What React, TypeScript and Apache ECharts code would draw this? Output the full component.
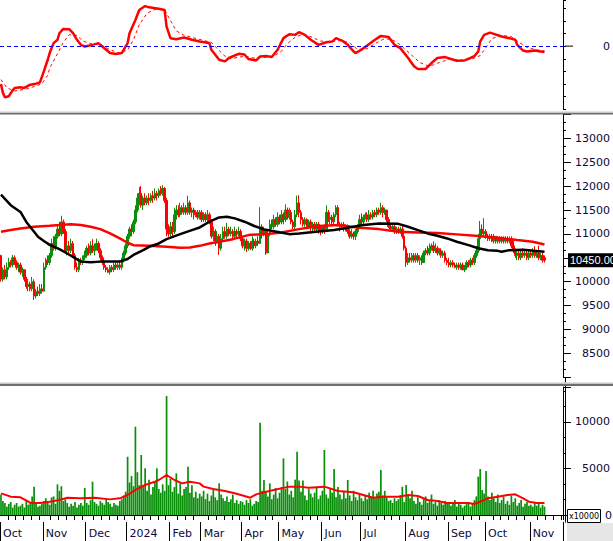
import React, { useEffect, useRef } from "react";
import * as echarts from "echarts";

// ---------- calendar (trading days) ----------
const firstDay = "2023-10-02";
const lastDay = "2024-11-25";
const holidays = [
  "2024-01-01", "2024-02-08", "2024-02-09", "2024-02-12", "2024-02-13", "2024-02-14",
  "2024-04-18", "2024-04-29", "2024-04-30", "2024-05-01", "2024-09-02", "2024-09-03",
];
const monthNames = ["Jan", "Feb", "Mar", "Apr", "May", "Jun", "Jul", "Aug", "Sep", "Oct", "Nov", "Dec"];

// ---------- candles [open, close, low, high] ----------
const oct23 = [
  [10550, 10050, 10000, 10560], [10050, 10250, 10000, 10300], [10250, 10100, 10050, 10350], [10100, 10300, 10050, 10400],
  [10300, 10400, 10250, 10500], [10400, 10350, 10300, 10450], [10350, 10500, 10300, 10560], [10500, 10400, 10350, 10550],
  [10400, 10300, 10250, 10450], [10300, 10350, 10200, 10400], [10350, 10200, 10150, 10400], [10200, 10250, 10100, 10300],
  [10250, 10050, 10000, 10250], [10050, 9900, 9850, 10100], [9900, 9950, 9800, 10050], [9950, 9850, 9800, 10000],
  [9850, 10000, 9800, 10100], [10000, 9700, 9620, 10050], [9700, 9800, 9650, 9850], [9800, 9750, 9700, 9900],
  [9750, 9850, 9700, 9950], [9850, 9800, 9750, 9950],
];
const nov23 = [
  [9800, 10300, 9800, 10400], [10300, 10450, 10250, 10500], [10450, 10400, 10350, 10550], [10400, 10550, 10350, 10600],
  [10550, 10800, 10500, 10900], [10800, 10700, 10650, 10950], [10700, 10950, 10650, 11000], [10950, 11100, 10900, 11200],
  [11100, 11000, 10950, 11250], [11000, 11250, 10950, 11380], [11250, 11050, 11000, 11300], [11050, 10650, 10600, 11100],
  [10650, 10750, 10550, 10800], [10750, 10650, 10600, 10850], [10650, 10800, 10600, 10900], [10800, 10550, 10500, 10850],
  [10550, 10300, 10250, 10600], [10300, 10250, 10200, 10400], [10250, 10450, 10200, 10500], [10450, 10400, 10350, 10500],
  [10400, 10500, 10350, 10550], [10500, 10550, 10450, 10650],
];
const dec23 = [
  [10550, 10700, 10500, 10750], [10700, 10600, 10550, 10800], [10600, 10750, 10550, 10850], [10750, 10650, 10600, 10890],
  [10650, 10700, 10550, 10800], [10700, 10800, 10650, 10900], [10800, 10650, 10600, 10850], [10650, 10500, 10450, 10700],
  [10500, 10400, 10350, 10550], [10400, 10300, 10250, 10450], [10300, 10250, 10200, 10350], [10250, 10200, 10180, 10300],
  [10200, 10300, 10150, 10350], [10300, 10250, 10200, 10350], [10250, 10350, 10200, 10400], [10350, 10300, 10250, 10400],
  [10300, 10350, 10250, 10400], [10350, 10300, 10250, 10450], [10300, 10450, 10250, 10500], [10450, 10600, 10400, 10650],
  [10600, 10750, 10550, 10800],
];
const jan24 = [
  [10750, 10950, 10700, 11000], [10950, 11100, 10900, 11150], [11100, 11050, 10950, 11200], [11050, 11250, 11000, 11300],
  [11250, 11500, 11200, 11600], [11500, 11750, 11450, 11850], [11750, 11850, 11600, 11980], [11850, 11600, 11550, 12000],
  [11600, 11750, 11500, 11800], [11750, 11650, 11600, 11850], [11650, 11750, 11600, 11800], [11750, 11700, 11600, 11850],
  [11700, 11800, 11650, 11850], [11800, 11750, 11650, 11900], [11750, 11850, 11700, 11950], [11850, 11800, 11700, 11900],
  [11800, 11900, 11750, 11950], [11900, 11850, 11800, 12000], [11850, 11950, 11800, 12020], [11950, 11700, 11650, 11980],
  [11700, 11100, 10950, 11750], [11100, 11000, 10940, 11200],
];
const feb24 = [
  [11000, 11150, 10950, 11250], [11150, 11050, 10950, 11250], [11050, 11400, 11000, 11550], [11400, 11500, 11300, 11600],
  [11500, 11400, 11350, 11600], [11400, 11550, 11350, 11650], [11550, 11450, 11400, 11600], [11450, 11550, 11400, 11650],
  [11550, 11450, 11400, 11600], [11450, 11650, 11400, 11800], [11650, 11450, 11400, 11700], [11450, 11500, 11350, 11550],
  [11500, 11400, 11300, 11550], [11400, 11450, 11350, 11500], [11450, 11350, 11300, 11500], [11350, 11450, 11300, 11500],
];
const mar24 = [
  [11450, 11300, 11250, 11500], [11300, 11400, 11250, 11450], [11400, 11300, 11250, 11450], [11300, 11400, 11250, 11500],
  [11400, 11250, 11200, 11450], [11250, 10950, 10900, 11300], [10950, 11050, 10850, 11150], [11050, 10850, 10750, 11100],
  [10850, 10950, 10800, 11050], [10950, 10700, 10560, 11000], [10700, 10900, 10650, 11000], [10900, 11050, 10850, 11150],
  [11050, 10950, 10900, 11150], [10950, 11100, 10900, 11230], [11100, 11000, 10950, 11150], [11000, 11050, 10950, 11150],
  [11050, 10950, 10900, 11100], [10950, 11050, 10900, 11150], [11050, 11000, 10940, 11100], [11000, 11050, 10950, 11150],
  [11050, 10900, 10850, 11100],
];
const apr24 = [
  [10900, 10750, 10700, 10950], [10750, 10850, 10650, 10900], [10850, 10700, 10620, 10900], [10700, 10800, 10650, 10850],
  [10800, 10700, 10660, 10850], [10700, 10850, 10650, 10950], [10850, 10750, 10700, 10900], [10750, 10850, 10700, 10900],
  [10850, 10800, 10750, 10950], [10800, 11150, 10800, 11560], [11150, 11000, 10900, 11200], [11000, 11100, 10950, 11150],
  [11100, 10600, 10560, 11100], [10600, 11000, 10600, 11100], [11000, 11200, 10950, 11300], [11200, 11150, 11100, 11300],
  [11150, 11300, 11100, 11400], [11300, 11200, 11150, 11350], [11200, 11350, 11150, 11450],
];
const may24 = [
  [11350, 11250, 11200, 11400], [11250, 11400, 11200, 11500], [11400, 11300, 11200, 11450], [11300, 11500, 11250, 11620],
  [11500, 11350, 11300, 11550], [11350, 11450, 11300, 11550], [11450, 11250, 11200, 11500], [11250, 11150, 11100, 11300],
  [11150, 11400, 11100, 11500], [11400, 11650, 11350, 11800], [11650, 11450, 11350, 11810], [11450, 11300, 11200, 11500],
  [11300, 11200, 11150, 11350], [11200, 11300, 11150, 11350], [11300, 11150, 11100, 11330], [11150, 11250, 11100, 11300],
  [11250, 11150, 11050, 11300], [11150, 11200, 11050, 11250], [11200, 11100, 11040, 11250], [11100, 11200, 11050, 11250],
  [11200, 11100, 11000, 11250], [11100, 11050, 10970, 11150],
];
const jun24 = [
  [11050, 11150, 11000, 11180], [11150, 11100, 11000, 11200], [11100, 11450, 11100, 11600], [11450, 11300, 11250, 11500],
  [11300, 11350, 11200, 11450], [11350, 11250, 11150, 11400], [11250, 11400, 11200, 11450], [11400, 11550, 11350, 11600],
  [11550, 11200, 11150, 11600], [11200, 11150, 11050, 11250], [11150, 11200, 11100, 11240], [11200, 11100, 11050, 11250],
  [11100, 11150, 11050, 11200], [11150, 11050, 11000, 11200], [11050, 10950, 10900, 11100], [10950, 11000, 10900, 11100],
  [11000, 10950, 10880, 11050], [10950, 11050, 10870, 11100], [11050, 11150, 11000, 11200], [11150, 11300, 11100, 11400],
];
const jul24 = [
  [11300, 11250, 11200, 11430], [11250, 11350, 11200, 11400], [11350, 11400, 11300, 11450], [11400, 11300, 11250, 11450],
  [11300, 11400, 11250, 11500], [11400, 11350, 11300, 11450], [11350, 11450, 11300, 11500], [11450, 11400, 11350, 11500],
  [11400, 11500, 11350, 11550], [11500, 11450, 11400, 11550], [11450, 11550, 11400, 11650], [11550, 11450, 11350, 11600],
  [11450, 11500, 11400, 11550], [11500, 11300, 11250, 11500], [11300, 11150, 11120, 11350], [11150, 11100, 11050, 11200],
  [11100, 11150, 11050, 11200], [11150, 11050, 11000, 11200], [11050, 11100, 11000, 11150], [11100, 11050, 11000, 11150],
  [11050, 11100, 11000, 11150], [11100, 10950, 10900, 11200], [10950, 10700, 10650, 10980],
];
const aug24 = [
  [10700, 10400, 10310, 10750], [10400, 10500, 10350, 10600], [10500, 10450, 10400, 10600], [10450, 10550, 10400, 10600],
  [10550, 10450, 10400, 10600], [10450, 10550, 10400, 10600], [10550, 10450, 10400, 10600], [10450, 10500, 10350, 10550],
  [10500, 10400, 10350, 10550], [10400, 10600, 10400, 10650], [10600, 10650, 10550, 10700], [10650, 10600, 10550, 10750],
  [10600, 10700, 10550, 10800], [10700, 10750, 10650, 10800], [10750, 10650, 10600, 10840], [10650, 10700, 10600, 10800],
  [10700, 10600, 10550, 10750], [10600, 10650, 10550, 10700], [10650, 10550, 10500, 10700], [10550, 10600, 10500, 10650],
  [10600, 10450, 10400, 10650], [10450, 10400, 10350, 10500],
];
const sep24 = [
  [10400, 10350, 10300, 10500], [10350, 10400, 10300, 10450], [10400, 10350, 10300, 10450], [10350, 10300, 10280, 10400],
  [10300, 10350, 10250, 10400], [10350, 10300, 10250, 10400], [10300, 10350, 10250, 10400], [10350, 10250, 10240, 10400],
  [10250, 10300, 10200, 10350], [10300, 10400, 10250, 10450], [10400, 10350, 10300, 10450], [10350, 10450, 10300, 10500],
  [10450, 10400, 10350, 10500], [10400, 10550, 10350, 10600], [10550, 10650, 10500, 10750], [10650, 10900, 10600, 11000],
  [10900, 11100, 10850, 11270], [11100, 11000, 10950, 11200], [11000, 11050, 10950, 11330],
];
const oct24 = [
  [11050, 10950, 10900, 11100], [10950, 10900, 10850, 11000], [10900, 10950, 10850, 11000], [10950, 10850, 10830, 11000],
  [10850, 10950, 10800, 11000], [10950, 10850, 10800, 10950], [10850, 10900, 10800, 10950], [10900, 10850, 10800, 10950],
  [10850, 10900, 10800, 10950], [10900, 10850, 10800, 10950], [10850, 10900, 10800, 10950], [10900, 10850, 10800, 10950],
  [10850, 10900, 10800, 10950], [10900, 10750, 10700, 10950], [10750, 10650, 10600, 10850], [10650, 10550, 10500, 10700],
  [10550, 10600, 10450, 10650], [10600, 10500, 10450, 10650], [10500, 10600, 10450, 10650], [10600, 10550, 10500, 10700],
  [10550, 10600, 10500, 10650], [10600, 10500, 10450, 10650], [10500, 10600, 10450, 10650],
];
const nov24 = [
  [10600, 10550, 10500, 10650], [10550, 10650, 10500, 10700], [10650, 10550, 10500, 10740], [10550, 10600, 10500, 10650],
  [10600, 10500, 10450, 10750], [10500, 10550, 10450, 10600], [10550, 10450, 10400, 10600], [10500, 10450, 10400, 10550],
];

// ---------- volumes (x10000) ----------
const volOct23 = [2200, 1500, 1300, 900, 1200, 1400, 800, 1100, 1300, 900, 1000, 1200, 800, 1500, 1100, 1300, 2000, 3040, 1400, 900, 1000, 1200];
const volNov23 = [1500, 1800, 1300, 1100, 1900, 2000, 1200, 3300, 2600, 3100, 1500, 1700, 1300, 900, 1200, 1000, 1400, 800, 1100, 1300, 1000, 2900];
const volDec23 = [1300, 1100, 1600, 3580, 1400, 1200, 1000, 1500, 1300, 1100, 1700, 1400, 1200, 900, 1300, 1100, 1000, 1500, 1700, 2100, 2500];
const volJan24 = [6270, 3500, 4200, 3100, 9490, 4600, 3200, 6450, 3000, 5020, 2600, 3800, 2200, 3000, 3600, 5020, 2800, 2400, 3300, 2600, 12800, 3200];
const volFeb24 = [3940, 2500, 3000, 4480, 2300, 3400, 2100, 2800, 3000, 5190, 2400, 3200, 1900, 2500, 1800, 2300];
const volMar24 = [2000, 2600, 1700, 2300, 1500, 2100, 2800, 1900, 1600, 3400, 2200, 1800, 1500, 2000, 1400, 1700, 2200, 1300, 1600, 1200, 1500];
const volApr24 = [1400, 1100, 1600, 1300, 1700, 1000, 1200, 1500, 1400, 9920, 2600, 3760, 2500, 2000, 3400, 1700, 2200, 2900, 1800];
const volMay24 = [2400, 3000, 6090, 2800, 3600, 2200, 2600, 1900, 3800, 6800, 3700, 2500, 3700, 2100, 1600, 2800, 2300, 1900, 2400, 3000, 1700, 2100];
const volJun24 = [2600, 6990, 2200, 1800, 2800, 2400, 4940, 1900, 3000, 2200, 1700, 2500, 1800, 3760, 2100, 1500, 2600, 1900, 1600, 2200];
const volJul24 = [1800, 1500, 2100, 1700, 2400, 1900, 2600, 1800, 2300, 2500, 4840, 2100, 2600, 1900, 1500, 1600, 1300, 1800, 1500, 1700, 2100, 3040, 1400];
const volAug24 = [3225, 2200, 1800, 2600, 1500, 1200, 1900, 1400, 1100, 1700, 2000, 1300, 1500, 2200, 1200, 1400, 1000, 1600, 1300, 1100, 1500, 1200];
const volSep24 = [1400, 1000, 1200, 1600, 900, 1300, 1100, 800, 1000, 1400, 1200, 900, 1300, 1600, 2000, 4120, 4940, 2690, 2300];
const volOct24 = [4730, 2000, 1600, 2400, 1800, 1400, 2200, 1300, 1600, 2000, 1200, 1500, 1100, 2100, 1400, 1800, 1000, 1300, 1600, 900, 1200, 1400, 1000];
const volNov24 = [1100, 900, 1300, 1000, 1200, 800, 1100, 900];

// ---------- indicator lines: [bar index, value] ----------
const maBlack = [
  [0, 11820], [5, 11600], [10, 11460], [13, 11250], [17, 11045], [19, 10940], [22, 10850], [25, 10770], [30, 10680],
  [34, 10590], [37, 10520], [41, 10420], [46, 10405], [51, 10420], [61, 10420], [65, 10475], [68, 10560], [73, 10660],
  [76, 10730], [81, 10800], [85, 10890], [92, 10995], [98, 11080], [102, 11135], [107, 11255], [112, 11345], [116, 11360],
  [120, 11325], [125, 11255], [130, 11165], [135, 11095], [143, 11033], [148, 10995], [153, 11010], [163, 11050],
  [171, 11080], [178, 11130], [186, 11185], [194, 11220], [204, 11210], [209, 11150], [214, 11080], [219, 11010],
  [224, 10960], [229, 10905], [234, 10835], [240, 10765], [245, 10700], [250, 10660], [255, 10645], [257, 10625],
  [261, 10660], [268, 10670], [279, 10625],
];
const maRed = [
  [0, 11045], [5, 11080], [10, 11115], [17, 11150], [25, 11170], [30, 11185], [36, 11200], [41, 11185], [46, 11150],
  [51, 11100], [56, 11010], [61, 10905], [65, 10815], [68, 10765], [76, 10750], [85, 10730], [92, 10710], [97, 10715],
  [102, 10750], [107, 10800], [112, 10835], [119, 10890], [127, 10975], [138, 11005], [144, 11030], [153, 11100],
  [163, 11165], [173, 11185], [184, 11130], [194, 11100], [204, 11045], [214, 11030], [224, 11020], [234, 10990],
  [245, 10955], [255, 10920], [265, 10870], [273, 10835], [279, 10780],
];
const volMa = [
  [0, 2330], [5, 1970], [10, 1900], [15, 1320], [20, 1290], [25, 1430], [30, 1610], [34, 1860], [41, 1790], [48, 1860],
  [56, 1680], [61, 1790], [65, 2150], [69, 2690], [74, 3225], [79, 3580], [81, 3760], [85, 4300], [89, 3760], [93, 3400],
  [97, 3580], [102, 3400], [104, 3050], [109, 2800], [115, 2580], [120, 2330], [125, 2040], [128, 1860], [131, 2220],
  [135, 2440], [140, 2690], [148, 3050], [153, 3050], [158, 2940], [166, 3050], [173, 2580], [181, 2440], [186, 2150],
  [191, 1860], [196, 1970], [204, 1970], [209, 2150], [214, 2040], [219, 1610], [224, 1500], [229, 1290], [240, 1290],
  [243, 1180], [246, 1430], [250, 1790], [255, 1970], [260, 2150], [264, 2220], [268, 1790], [271, 1430], [275, 1290],
  [279, 1290],
];
const macdMain = [
  [0, -300], [1, -370], [2, -405], [4, -397], [6, -350], [7, -331], [10, -326], [12, -331], [15, -305], [18, -297],
  [20, -287], [22, -200], [24, -108], [25, -55], [27, 24], [29, 50], [30, 102], [32, 136], [35, 134], [37, 102], [39, 50],
  [41, 10], [43, -3], [47, 10], [50, 24], [52, -3], [56, -55], [59, -63], [62, -55], [65, 24], [66, 102], [69, 207],
  [71, 286], [74, 317], [76, 307], [81, 296], [84, 286], [85, 154], [87, 63], [90, 55], [94, 68], [98, 50], [102, 36],
  [107, 24], [108, -29], [112, -108], [115, -121], [117, -94], [122, -61], [125, -66], [127, -102], [131, -113],
  [133, -82], [136, -79], [139, -86], [142, -29], [145, 63], [148, 94], [151, 89], [153, 110], [156, 89], [159, 50],
  [163, 10], [167, 31], [170, 36], [172, 63], [175, 44], [178, 10], [181, -42], [182, -55], [185, -29], [189, 16],
  [192, 50], [195, 81], [199, 73], [202, 10], [205, -16], [209, -94], [212, -160], [214, -181], [218, -181], [221, -134],
  [224, -94], [228, -87], [231, -102], [234, -116], [238, -113], [241, -94], [243, -79], [245, -42], [246, 36], [248, 89],
  [251, 107], [253, 97], [257, 76], [261, 63], [264, 50], [265, 10], [268, -35], [270, -42], [274, -35], [277, -42],
  [279, -47],
];
const macdSignal = [
  [0, -265], [3, -330], [7, -355], [13, -340], [18, -315], [21, -297], [24, -230], [25, -175], [29, -60], [32, 30],
  [35, 90], [39, 85], [42, 40], [47, 15], [51, 15], [56, -30], [61, -55], [65, -30], [68, 50], [71, 170], [75, 260],
  [79, 290], [84, 290], [86, 230], [90, 120], [94, 85], [99, 65], [104, 45], [108, 30], [111, -20], [115, -80],
  [118, -100], [125, -80], [130, -95], [135, -90], [140, -80], [144, -40], [147, 20], [151, 70], [155, 95], [159, 75],
  [164, 40], [169, 35], [175, 45], [179, 25], [183, -25], [188, -20], [192, 20], [197, 60], [201, 50], [205, 10],
  [210, -60], [215, -130], [220, -160], [225, -130], [230, -105], [237, -110], [242, -100], [246, -75], [249, -10],
  [252, 60], [257, 85], [262, 75], [266, 30], [270, -10], [275, -30], [279, -38],
];

const candles = [...oct23, ...nov23, ...dec23, ...jan24, ...feb24, ...mar24, ...apr24, ...may24, ...jun24, ...jul24, ...aug24, ...sep24, ...oct24, ...nov24];
const volumes = [...volOct23, ...volNov23, ...volDec23, ...volJan24, ...volFeb24, ...volMar24, ...volApr24, ...volMay24, ...volJun24, ...volJul24, ...volAug24, ...volSep24, ...volOct24, ...volNov24];

function tradingDays(): string[] {
  const out: string[] = [];
  const d = new Date(firstDay + "T00:00:00Z");
  const end = new Date(lastDay + "T00:00:00Z");
  while (d <= end) {
    const wd = d.getUTCDay();
    const s = d.toISOString().slice(0, 10);
    if (wd !== 0 && wd !== 6 && holidays.indexOf(s) < 0) out.push(s);
    d.setUTCDate(d.getUTCDate() + 1);
  }
  return out;
}

const dates = tradingDays();
const monthStart: boolean[] = [];
const subTick: boolean[] = [];
{
  let k = 0;
  for (let i = 0; i < dates.length; i++) {
    const ms = i === 0 || dates[i].slice(0, 7) !== dates[i - 1].slice(0, 7);
    if (ms) k = 0;
    monthStart.push(ms);
    subTick.push(!ms && k % 4 === 0);
    k++;
  }
}

const LABEL_COLOR = "#0a0a3c";
const FONT = "DejaVu Sans";
const GREEN = "#0a8f0a";
const RED = "#ff0000";
const GRID_L = -1.4;
const GRID_W = 566.4;

export default function App() {
  const ref = useRef<HTMLDivElement>(null);
  useEffect(() => {
    if (!ref.current) return;
    const chart = echarts.init(ref.current, null, { renderer: "svg" });
    const lastClose = candles[candles.length - 1][1];
    const hiddenX = (g: number) => ({ type: "category", gridIndex: g, data: dates, show: false });
    const yLabel = { color: LABEL_COLOR, fontSize: 11, fontFamily: FONT, margin: 47, align: "right" };
    const option: any = {
      animation: false,
      backgroundColor: "#ffffff",
      grid: [
        { left: GRID_L, top: 0, width: GRID_W, height: 109.3 },
        { left: GRID_L, top: 114.4, width: GRID_W, height: 262.9 },
        { left: GRID_L, top: 387, width: GRID_W, height: 128 },
      ],
      xAxis: [
        hiddenX(0),
        hiddenX(1),
        {
          type: "category", gridIndex: 2, data: dates, position: "bottom", offset: 7,
          axisLine: { show: true, lineStyle: { color: "#000", width: 1 } },
          axisTick: { show: true, interval: (i: number) => subTick[i], length: 5, lineStyle: { color: "#000" } },
          axisLabel: {
            show: true,
            interval: (i: number) => monthStart[i],
            formatter: (v: string) => (v.slice(5, 7) === "01" ? v.slice(0, 4) : monthNames[parseInt(v.slice(5, 7), 10) - 1]),
            align: "left", margin: 6, padding: [0, 0, 0, 2],
            color: LABEL_COLOR, fontSize: 11, fontFamily: FONT,
          },
          splitLine: { show: false },
        },
        {
          type: "category", gridIndex: 2, data: dates, position: "bottom", offset: 7,
          axisLine: { show: false },
          axisTick: { show: true, interval: (i: number) => monthStart[i], length: 19, lineStyle: { color: "#000" } },
          axisLabel: { show: false },
          splitLine: { show: false },
        },
      ],
      yAxis: [
        {
          type: "value", gridIndex: 0, position: "right", min: -500, max: 365, interval: 100,
          axisLine: { show: true, lineStyle: { color: "#000" } },
          axisTick: { show: true, length: 3, lineStyle: { color: "#000" } },
          axisLabel: { ...yLabel, formatter: (v: number) => (v === 0 ? "0" : "") },
          splitLine: { show: false },
        },
        {
          type: "value", gridIndex: 1, position: "right", min: 8000, max: 13500, interval: 500,
          axisLine: { show: true, lineStyle: { color: "#000" } },
          axisTick: { show: true, length: 8, lineStyle: { color: "#000" } },
          minorTick: { show: true, splitNumber: 3, length: 3, lineStyle: { color: "#000" } },
          axisLabel: {
            ...yLabel, showMinLabel: false, showMaxLabel: false,
            // the label nearest the current price sits under the price box
            formatter: (v: number) => (Math.abs(v - lastClose) < 200 ? "" : String(v)),
          },
          splitLine: { show: false },
          minorSplitLine: { show: false },
        },
        {
          type: "value", gridIndex: 2, position: "right", min: 0, max: 13760, interval: 5000,
          axisLine: { show: true, lineStyle: { color: "#000" } },
          axisTick: { show: true, length: 8, lineStyle: { color: "#000" } },
          minorTick: { show: true, splitNumber: 3, length: 3, lineStyle: { color: "#000" } },
          // the zero label is drawn beside the "x10000" box below
          axisLabel: { ...yLabel, formatter: (v: number) => (v > 0 && v % 5000 === 0 ? String(v) : "") },
          splitLine: { show: false },
          minorSplitLine: { show: false },
        },
      ],
      series: [
        {
          type: "line", xAxisIndex: 0, yAxisIndex: 0, data: macdSignal, symbol: "none", z: 3,
          lineStyle: { color: RED, width: 1, type: [3, 3] },
        },
        {
          type: "line", xAxisIndex: 0, yAxisIndex: 0, data: macdMain, symbol: "none", z: 4,
          lineStyle: { color: RED, width: 2.5 },
          markLine: {
            silent: true, symbol: ["none", "none"], label: { show: false },
            lineStyle: { color: "#0000ff", type: [4, 3], width: 1.2 },
            data: [{ yAxis: 0 }],
          },
        },
        {
          type: "candlestick", xAxisIndex: 1, yAxisIndex: 1, data: candles, barWidth: 2, z: 2,
          itemStyle: { color: GREEN, color0: RED, borderColor: GREEN, borderColor0: RED, borderWidth: 1 },
          markLine: {
            silent: true, symbol: ["none", "none"],
            lineStyle: { color: "rgba(0,0,0,0)", width: 0 },
            label: {
              show: true, position: "end", distance: 5,
              formatter: () => lastClose.toFixed(2),
              backgroundColor: "#000", color: "#fff", padding: [2, 3, 1, 2],
              fontSize: 11, fontFamily: "Liberation Sans",
            },
            data: [{ yAxis: lastClose }],
          },
        },
        {
          type: "line", xAxisIndex: 1, yAxisIndex: 1, data: maRed, symbol: "none", z: 4,
          lineStyle: { color: RED, width: 2.5 },
        },
        {
          type: "line", xAxisIndex: 1, yAxisIndex: 1, data: maBlack, symbol: "none", z: 5,
          lineStyle: { color: "#000", width: 2.5 },
        },
        {
          type: "bar", xAxisIndex: 2, yAxisIndex: 2, data: volumes, barCategoryGap: "12%", z: 2,
          itemStyle: { color: GREEN },
        },
        {
          type: "line", xAxisIndex: 2, yAxisIndex: 2, data: volMa, symbol: "none", z: 4,
          lineStyle: { color: RED, width: 2 },
        },
      ],
    };
    chart.setOption(option);

    const zeroY = chart.convertToPixel({ yAxisIndex: 0 } as any, 0) as unknown as number;
    const volZeroY = chart.convertToPixel({ yAxisIndex: 2 } as any, 0) as unknown as number;
    chart.setOption({
      graphic: [
        { type: "rect", silent: true, shape: { x: 0, y: 111.5, width: 613, height: 1.5 }, style: { fill: "#c8c8c8" }, z: 50 },
        { type: "rect", silent: true, shape: { x: 0, y: 113, width: 613, height: 1.5 }, style: { fill: "#6e6e6e" }, z: 50 },
        { type: "rect", silent: true, shape: { x: 0, y: 382.5, width: 613, height: 1.5 }, style: { fill: "#c8c8c8" }, z: 50 },
        { type: "rect", silent: true, shape: { x: 0, y: 384, width: 613, height: 2 }, style: { fill: "#6e6e6e" }, z: 50 },
        { type: "line", silent: true, shape: { x1: 565.5, y1: 377, x2: 565.5, y2: 382.5 }, style: { stroke: "#000", lineWidth: 1 } },
        { type: "line", silent: true, shape: { x1: 565.5, y1: 386, x2: 565.5, y2: 522.5 }, style: { stroke: "#000", lineWidth: 1 } },
        { type: "line", silent: true, shape: { x1: 565, y1: zeroY, x2: 573, y2: zeroY }, style: { stroke: "#000", lineWidth: 1 } },
        { type: "rect", silent: true, shape: { x: 567, y: 523, width: 46, height: 18 }, style: { fill: "#e6e6e6" }, z: 60 },
        { type: "rect", silent: true, shape: { x: 567.5, y: 509.5, width: 33, height: 13 }, style: { fill: "#fff", stroke: "#000", lineWidth: 1 }, z: 100 },
        {
          type: "text", silent: true, x: 584, y: 516.5, z: 101,
          style: { text: "x10000", fontSize: 8, fontFamily: FONT, fill: "#000", align: "center", verticalAlign: "middle" },
        },
        {
          type: "text", silent: true, x: 612, y: volZeroY, z: 101,
          style: { text: "0", fontSize: 11, fontFamily: FONT, fill: LABEL_COLOR, align: "right", verticalAlign: "middle" },
        },
      ],
    });
    return () => chart.dispose();
  }, []);
  return (
    <div
      ref={ref}
      style={{ position: "fixed", left: 0, top: 0, width: 613, height: 541, background: "#fff" }}
    />
  );
}
